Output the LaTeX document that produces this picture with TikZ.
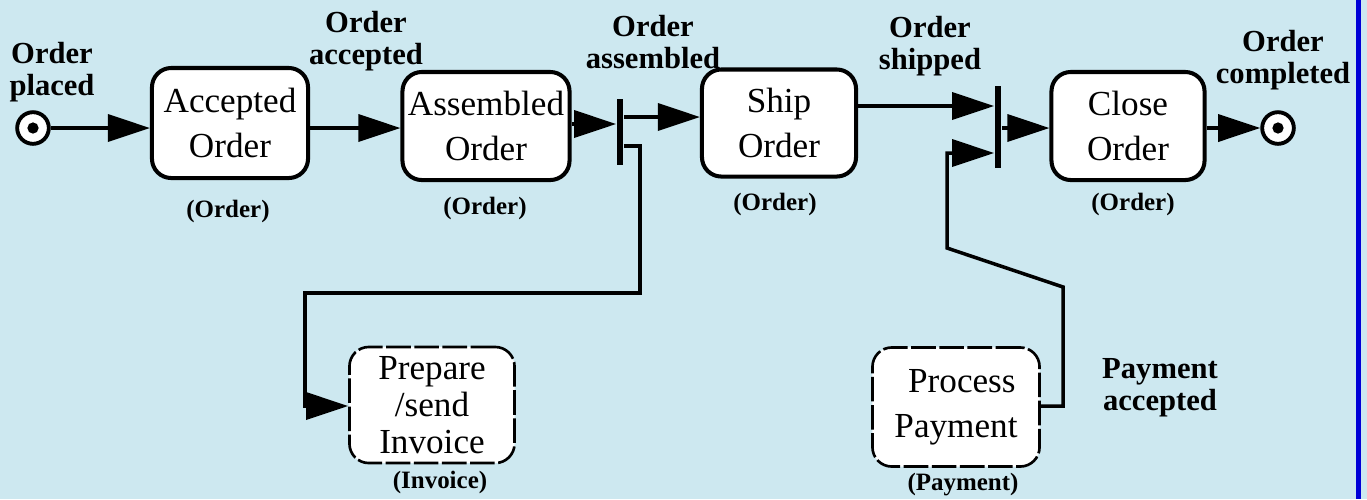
\documentclass[tikz,border=0pt]{standalone}
\usepackage{fontspec}
\setmainfont{Liberation Serif}
\usetikzlibrary{arrows.meta, positioning}

\definecolor{bgblue}{RGB}{205,232,240}
\definecolor{edgeblue}{RGB}{0,0,215}

\tikzset{
  state/.style={draw=black, line width=1.15pt, fill=white, rounded corners=5.5pt,
    align=center, inner sep=0pt, font=\fontsize{10}{12.8}\selectfont},
  pending/.style={state, line width=0.75pt, dash pattern=on 7pt off 1pt},
  event/.style={align=center, font=\bfseries\fontsize{8.7}{9.2}\selectfont},
  kind/.style={font=\bfseries\fontsize{7.1}{8}\selectfont},
  bar/.style={fill=black, draw=none, inner sep=0pt, minimum width=1.8pt},
  terminal/.style={circle, draw=black, line width=1.1pt, fill=white, minimum size=9pt, inner sep=0pt},
  flow/.style={line width=1pt, -{Triangle[length=4.2mm, width=2.7mm]}},
  wire/.style={line width=1pt}
}

\begin{document}
\begin{tikzpicture}[x=0.01cm, y=-0.01cm]
\useasboundingbox (0,0) rectangle (1367,499);
\fill[bgblue] (0,0) rectangle (1367,499);
\fill[edgeblue] (1356,0) rectangle (1361,499);

% start and end
\node[terminal] (start) at (33,128) {};
\fill (start) circle (1.6pt);
\node[terminal] (finish) at (1278,128) {};
\fill (finish) circle (1.6pt);

% activities
\node[state, minimum width=1.56cm, minimum height=1.10cm] (accepted) at (230,123) {Accepted\\Order};
\node[state, minimum width=1.67cm, minimum height=1.08cm] (assembled) at (486,126) {Assembled\\Order};
\node[state, minimum width=1.54cm, minimum height=1.07cm] (ship) at (779,123) {Ship\\Order};
\node[state, minimum width=1.53cm, minimum height=1.08cm] (close) at (1128,126) {Close\\Order};
\node[pending, minimum width=1.65cm, minimum height=1.16cm, font=\fontsize{10}{10.6}\selectfont] (invoice) at (432,405) {Prepare\\/send\\Invoice};
\node[pending, minimum width=1.67cm, minimum height=1.19cm] (payment) at (956,407) {\,\,Process\\Payment};

% sync bars
\node[bar, minimum height=0.65cm] (fork) at (620,132) {};
\node[bar, minimum height=0.81cm] (join) at (998,127) {};

% event labels
\node[event] (placedlbl) at (52,72) {Order\\placed};
\node[event] (acceptedlbl) at (366,41) {Order\\accepted};
\node[event] (assembledlbl) at (653,42) {Order\\assembled};
\node[event] (shippedlbl) at (930,46) {Order\\shipped};
\node[event] (completedlbl) at (1283,60) {Order\\completed};
\node[event] (paidlbl) at (1160,388) {Payment\\accepted};

% object types
\node[kind] (accepted type) at (228,211) {(Order)};
\node[kind] (assembled type) at (485,208) {(Order)};
\node[kind] (ship type) at (775,204) {(Order)};
\node[kind] (close type) at (1133,204) {(Order)};
\node[kind] (invoice type) at (440,482) {(Invoice)};
\node[kind] (payment type) at (963,485) {(Payment)};

% flows
\draw[flow] (start.east) -- (accepted.west |- start);
\draw[flow] (accepted.east |- 0,128) -- (assembled.west |- 0,128);
\draw[flow] (assembled.east |- 0,124) -- (fork.west |- 0,124);
\draw[flow] (fork.east |- 0,117) -- (ship.west |- 0,117);
\draw[flow] (fork.east |- 0,146) -- (640,146) -- (640,293) -- (305,293) -- (305,406) -- (invoice.west |- 0,406);
\draw[flow] (ship.east |- 0,106) -- (join.west |- 0,106);
\draw[flow] (payment.east |- 0,406) -- (1063,406) -- (1063,287) -- (947,248) -- (947,153) -- (join.west |- 0,153);
\draw[flow] (join.east |- 0,128) -- (close.west |- 0,128);
\draw[flow] (close.east |- 0,128) -- (finish.west);

\end{tikzpicture}
\end{document}
